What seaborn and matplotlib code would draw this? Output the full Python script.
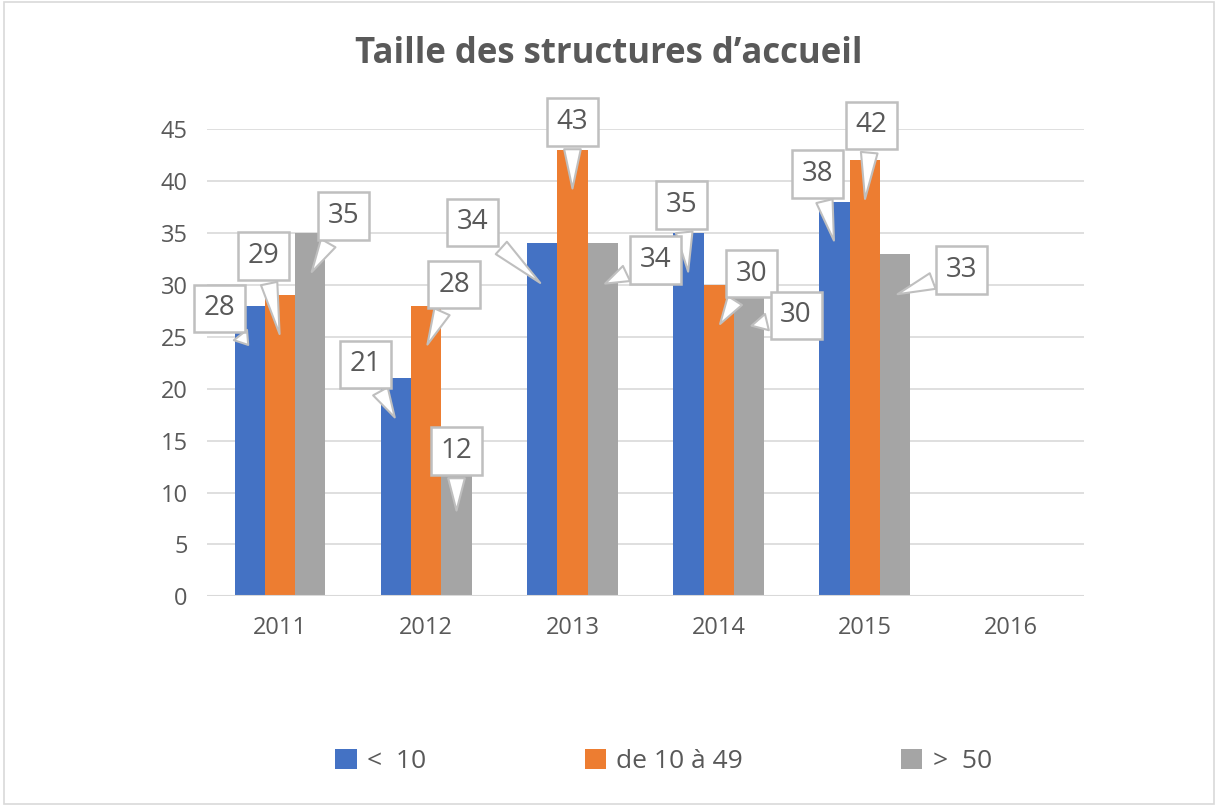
import pandas as pd
import matplotlib.pyplot as plt
import seaborn as sns
from matplotlib.patches import Rectangle

years = ["2011", "2012", "2013", "2014", "2015", "2016"]
groups = ["<  10", "de 10 à 49", ">  50"]
small = [28, 21, 34, 35, 38, None]
medium = [29, 28, 43, 30, 42, None]
large = [35, 12, 34, 30, 33, None]
colors = ["#4472c4", "#ed7d31", "#a5a5a5"]

rows = []
for g, vals in zip(groups, [small, medium, large]):
    for y, v in zip(years, vals):
        rows.append({"year": y, "group": g, "value": v})
df = pd.DataFrame(rows)

sns.set_style("white")
plt.rcParams["font.family"] = ["Open Sans", "DejaVu Sans"]
grey = "#595959"

fig = plt.figure(figsize=(12.18, 8.06), dpi=100)
ax = fig.add_axes([0.17, 0.26, 0.72, 0.58])
sns.barplot(data=df, x="year", y="value", hue="group", order=years,
            hue_order=groups, palette=colors, width=0.62, saturation=1,
            linewidth=0, legend=True, ax=ax)

ax.set_ylim(0, 45)
ax.set_yticks(range(0, 46, 5))
ax.yaxis.grid(True, color="#d9d9d9", linewidth=1.2)
ax.set_axisbelow(True)
sns.despine(ax=ax, left=True, bottom=True)
ax.set_xlabel("")
ax.set_ylabel("")
ax.tick_params(axis="both", labelsize=17, colors=grey, length=0, pad=14)
ax.axhline(0, color="#d9d9d9", linewidth=1.5)

# callout labels, offsets in points (dx, dy)
offsets = {
    "<  10": [(-22, 28), (-22, 40), (-50, 45), (-5, 50), (-12, 50)],
    "de 10 à 49": [(-12, 58), (20, 45), (0, 50), (24, 38), (5, 55)],
    ">  50": [(24, 42), (0, 45), (38, 18), (34, 8), (48, 18)],
}
for cont, g in zip(ax.containers, groups):
    for i, bar in enumerate(cont):
        h = bar.get_height()
        if h != h or h == 0:
            continue
        x = bar.get_x() + bar.get_width() / 2
        dx, dy = offsets[g][i]
        ax.annotate(f"{int(h)}", xy=(x, h - 4), xytext=(dx, dy),
                    textcoords="offset points", ha="center", va="center",
                    fontsize=20, color=grey,
                    bbox=dict(boxstyle="square,pad=0.35", fc="white",
                              ec="#bfbfbf", lw=1.8),
                    arrowprops=dict(arrowstyle="wedge,tail_width=0.6",
                                    fc="white", ec="#bfbfbf", lw=1.5))

fig.suptitle("Taille des structures d’accueil", x=0.5, y=0.955,
             fontsize=25, fontweight="bold", color=grey)

handles, labels = ax.get_legend_handles_labels()
ax.legend_.remove()
fig.legend(handles, labels, loc="lower center", bbox_to_anchor=(0.545, 0.01),
           ncol=3, frameon=False, fontsize=19, labelcolor=grey,
           handlelength=0.8, handleheight=0.8, handletextpad=0.4,
           columnspacing=6)

fig.patches.append(Rectangle((0.003, 0.003), 0.994, 0.994,
                             transform=fig.transFigure, fill=False,
                             ec="#d9d9d9", lw=1.2))

fig.savefig("out.png", dpi=100)
